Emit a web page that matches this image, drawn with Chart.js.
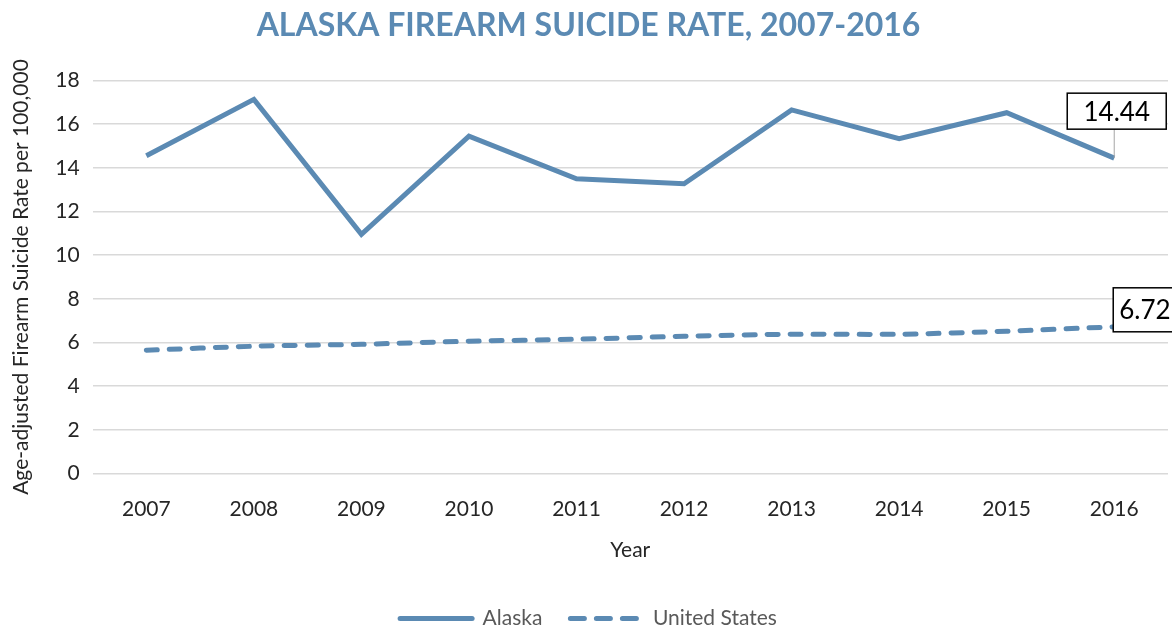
<!DOCTYPE html>
<html>
<head>
<meta charset="utf-8">
<script src="https://cdn.jsdelivr.net/npm/chart.js@4.4.0/dist/chart.umd.min.js"></script>
<style>
  html, body { margin: 0; padding: 0; background: #fff; overflow: hidden; }
  #wrap { width: 1172px; height: 628px; position: relative; }
</style>
</head>
<body>
<div id="wrap"><canvas id="c" width="1172" height="628"></canvas></div>
<script>
const years = ['2007','2008','2009','2010','2011','2012','2013','2014','2015','2016'];
const alaska = [14.55, 17.13, 10.95, 15.45, 13.50, 13.27, 16.65, 15.33, 16.52, 14.44];
const unitedStates = [5.65, 5.83, 5.92, 6.06, 6.15, 6.29, 6.38, 6.38, 6.52, 6.72];
const yTicks = [0, 2, 4, 6, 8, 10, 12, 14, 16, 18];
const seriesNames = ['Alaska', 'United States'];
const titleText = 'ALASKA FIREARM SUICIDE RATE, 2007-2016';
const yTitle = 'Age-adjusted Firearm Suicide Rate per 100,000';
const xTitle = 'Year';

const BLUE = '#5b8ab3';
const FONT = 'Lato, "Open Sans", sans-serif';

const calloutPlugin = {
  id: 'callouts',
  afterDatasetsDraw(chart) {
    const ctx = chart.ctx;
    ctx.save();
    ctx.font = '26px ' + FONT;
    ctx.textBaseline = 'middle';
    ctx.textAlign = 'center';
    const m0 = chart.getDatasetMeta(0);
    const p0 = m0.data[m0.data.length - 1];
    const v0 = chart.data.datasets[0].data[m0.data.length - 1].toFixed(2);
    {
      const w = 99, h = 36;
      const bx = p0.x - 47, by = p0.y - 65;
      ctx.strokeStyle = '#a6a6a6';
      ctx.lineWidth = 1;
      ctx.beginPath();
      ctx.moveTo(p0.x, by + h);
      ctx.lineTo(p0.x, p0.y);
      ctx.stroke();
      ctx.fillStyle = '#fff';
      ctx.fillRect(bx, by, w, h);
      ctx.strokeStyle = '#000';
      ctx.lineWidth = 1.5;
      ctx.strokeRect(bx, by, w, h);
      ctx.fillStyle = '#000';
      ctx.fillText(v0, bx + w / 2, by + h / 2 + 1);
    }
    const m1 = chart.getDatasetMeta(1);
    const p1 = m1.data[m1.data.length - 1];
    const v1 = chart.data.datasets[1].data[m1.data.length - 1].toFixed(2);
    {
      const w = 72, h = 44;
      const bx = p1.x - 1, by = p1.y - 39;
      ctx.fillStyle = '#fff';
      ctx.fillRect(bx, by, w, h);
      ctx.strokeStyle = '#000';
      ctx.lineWidth = 1.5;
      ctx.strokeRect(bx, by, w, h);
      ctx.fillStyle = '#000';
      ctx.textAlign = 'left';
      ctx.fillText(v1, bx + 6, by + h / 2 + 1);
    }
    ctx.restore();
  }
};

new Chart(document.getElementById('c'), {
  type: 'line',
  data: {
    labels: years,
    datasets: [
      {
        label: seriesNames[0],
        data: alaska,
        borderColor: BLUE,
        backgroundColor: BLUE,
        borderWidth: 5,
        pointRadius: 0,
        tension: 0,
        borderJoinStyle: 'miter',
        fill: false
      },
      {
        label: seriesNames[1],
        data: unitedStates,
        borderColor: BLUE,
        backgroundColor: BLUE,
        borderWidth: 5,
        borderDash: [11, 12],
        borderCapStyle: 'round',
        pointRadius: 0,
        tension: 0.3,
        fill: false
      }
    ]
  },
  plugins: [calloutPlugin],
  options: {
    responsive: false,
    animation: false,
    devicePixelRatio: 1,
    layout: { padding: { left: 9, right: 4, top: 0, bottom: -11 } },
    plugins: {
      title: {
        display: true,
        text: titleText,
        color: BLUE,
        font: { family: FONT, size: 32, weight: 'bold' },
        padding: { top: 6, bottom: 36 }
      },
      legend: {
        display: true,
        position: 'bottom',
        labels: {
          color: '#595959',
          font: { family: FONT, size: 21 },
          usePointStyle: true,
          pointStyleWidth: 72,
          boxHeight: 20,
          padding: 28,
          generateLabels(chart) {
            return chart.data.datasets.map((ds, i) => ({
              text: ds.label,
              datasetIndex: i,
              strokeStyle: BLUE,
              fillStyle: BLUE,
              lineWidth: 5,
              lineCap: 'round',
              lineDash: i === 1 ? [14, 12] : [],
              pointStyle: 'line',
              fontColor: '#595959',
              hidden: false
            }));
          }
        }
      },
      tooltip: { enabled: false }
    },
    scales: {
      x: {
        offset: true,
        grid: { display: false },
        border: { display: false },
        ticks: { color: '#262626', font: { family: FONT, size: 21 }, padding: 15 },
        title: {
          display: true,
          text: xTitle,
          color: '#262626',
          font: { family: FONT, size: 21 },
          padding: { top: 1, bottom: 17 }
        }
      },
      y: {
        min: 0,
        max: 18,
        afterBuildTicks(scale) { scale.ticks = yTicks.map(v => ({ value: v })); },
        grid: { color: '#d9d9d9', lineWidth: 1.5, drawTicks: false },
        border: { display: false },
        ticks: { color: '#262626', font: { family: FONT, size: 21 }, padding: 13 },
        title: {
          display: true,
          text: yTitle,
          color: '#262626',
          font: { family: FONT, size: 21 },
          padding: { top: 0, bottom: 8 }
        }
      }
    }
  }
});
</script>
</body>
</html>
